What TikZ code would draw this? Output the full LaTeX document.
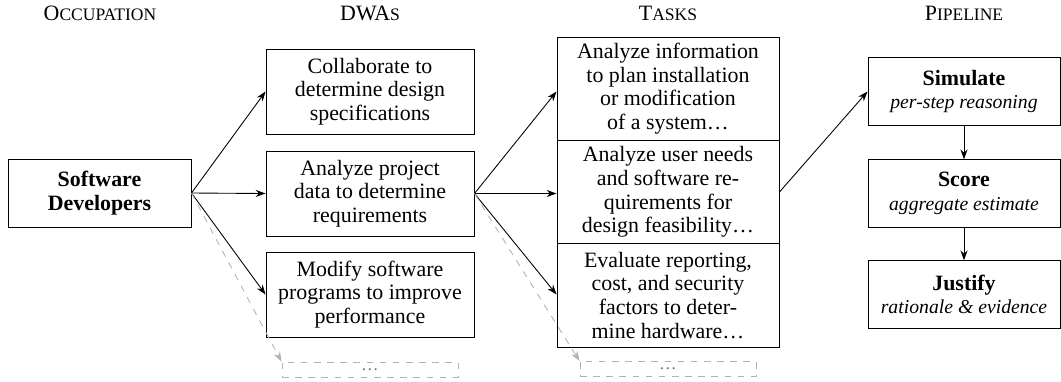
\documentclass[tikz,border=0pt]{standalone}
\usepackage{fontspec}
\setmainfont{Liberation Serif}
\usetikzlibrary{arrows.meta}

\newcommand{\fakesc}[2]{#1{\fontsize{8}{9}\selectfont #2}}

\begin{document}
\begin{tikzpicture}[x = 0.4566pt, y = -0.4566pt,
		box/.style = {draw, align = center, inner sep = 0pt, font = \fontsize{10}{10.8}\selectfont},
		occbox/.style = {box, minimum width = 83.6pt, minimum height = 31pt},
		dwabox/.style = {box, minimum width = 95pt, minimum height = 38.8pt},
		taskbox/.style = {box, minimum width = 101.4pt, minimum height = 47.2pt},
		pipebox/.style = {box, minimum width = 87.7pt, minimum height = 30.8pt},
		morebox/.style = {draw = black!30, dashed, inner sep = 0pt, minimum width = 80.4pt, minimum height = 6.85pt, text = black!55, font = \footnotesize},
		header/.style = {anchor = base, font = \fontsize{10}{12}\selectfont},
		arr/.style = {-{Stealth[length = 4.5pt, width = 3.2pt]}},
		fadedarr/.style = {arr, black!30, dashed}]
	
		\useasboundingbox (0, 0) rectangle (1061, 381);
	
		\node[header] (hocc) at (100, 20) {\fakesc{O}{CCUPATION}};
		\node[header] (hdwa) at (370, 20) {\fakesc{DWA}{S}};
		\node[header] (htask) at (668, 20) {\fakesc{T}{ASKS}};
		\node[header] (hpipe) at (964, 20) {\fakesc{P}{IPELINE}};
		
		\node[occbox] (occ) at (99.5, 193) {\textbf{Software}\\\textbf{Developers}};
		
		\node[dwabox] (dwa1) at (370, 91.5) {Collaborate to\\determine design\\specifications};
		\node[dwabox] (dwa2) at (370, 193.5) {Analyze project\\data to determine\\requirements};
		\node[dwabox] (dwa3) at (370, 294.5) {Modify software\\programs to improve\\performance};
		\node[morebox] (dwamore) at (370, 369.5) {\dots};
		
		\node[taskbox] (task1) at (668, 88.7) {Analyze information\\to plan installation\\or modification\\of a system\dots};
		\node[taskbox] (task2) at (668, 192) {Analyze user needs\\and software re-\\quirements for\\design feasibility\dots};
		\node[taskbox] (task3) at (668, 295.3) {Evaluate reporting,\\cost, and security\\factors to deter-\\mine hardware\dots};
		\node[morebox] (taskmore) at (668, 369) {\dots};
		
		\node[pipebox] (sim) at (964, 91.5) {\textbf{Simulate}\\{\small\itshape per-step reasoning}};
		\node[pipebox] (score) at (964, 193.5) {\textbf{Score}\\{\small\itshape aggregate estimate}};
		\node[pipebox] (just) at (964, 294.5) {\textbf{Justify}\\{\small\itshape rationale \& evidence}};
		
		\draw[arr] (occ.east) -- (dwa1.west);
		\draw[arr] (occ.east) -- (dwa2.west);
		\draw[arr] (occ.east) -- (dwa3.west);
		\draw[fadedarr] (occ.east) -- (dwamore.north west);
		
		\draw[arr] (dwa2.east) -- (task1.west |- dwa1.west);
		\draw[arr] (dwa2.east) -- (task2.west |- dwa2.west);
		\draw[arr] (dwa2.east) -- (task3.west |- dwa3.west);
		\draw[fadedarr] (dwa2.east) -- (taskmore.north west);
		
		\draw[arr] (task2.east) -- (sim.west);
		\draw[arr] (sim) -- (score);
		\draw[arr] (score) -- (just);
		
	\end{tikzpicture}
\end{document}
